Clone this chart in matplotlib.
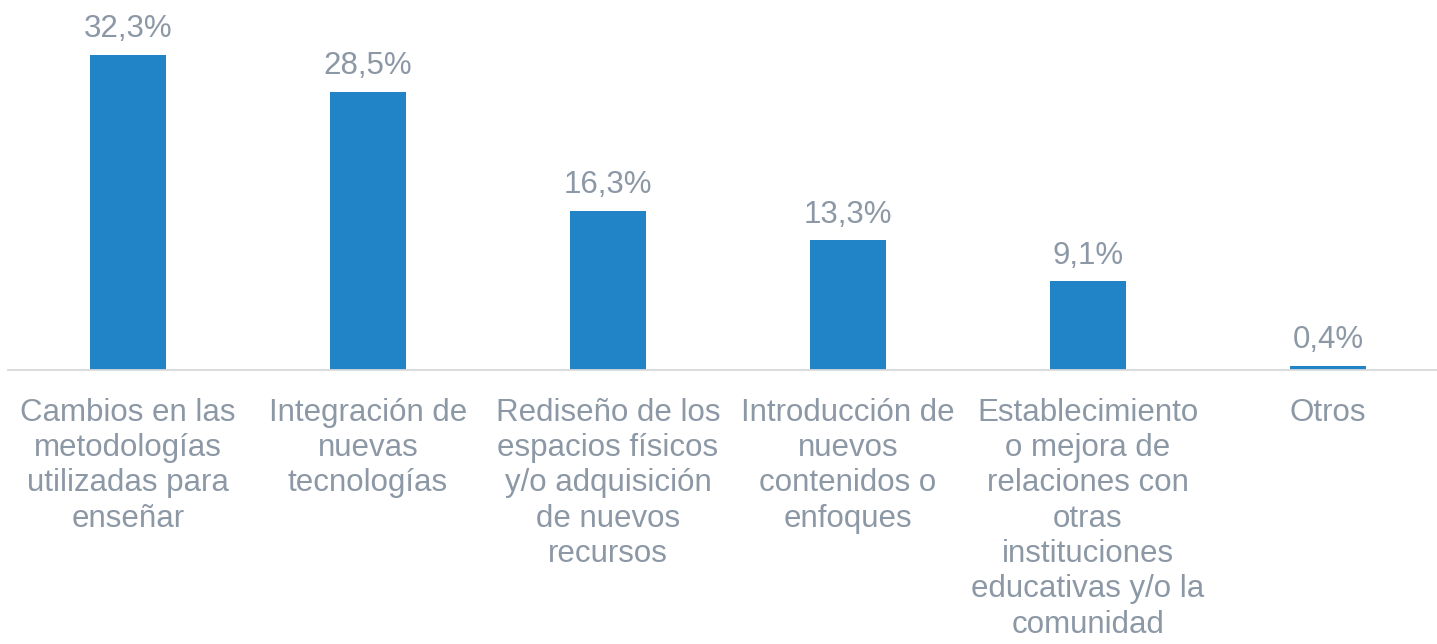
import matplotlib.pyplot as plt

plt.rcParams['font.family'] = ['Liberation Sans', 'DejaVu Sans']

categorias = [
    "Cambios en las\nmetodologías\nutilizadas para\nenseñar",
    "Integración de\nnuevas\ntecnologías",
    "Rediseño de los\nespacios físicos\ny/o adquisición\nde nuevos\nrecursos",
    "Introducción de\nnuevos\ncontenidos o\nenfoques",
    "Establecimiento\no mejora de\nrelaciones con\notras\ninstituciones\neducativas y/o la\ncomunidad",
    "Otros",
]
valores = [32.3, 28.5, 16.3, 13.3, 9.1, 0.4]
etiquetas = ["32,3%", "28,5%", "16,3%", "13,3%", "9,1%", "0,4%"]

azul = "#2184C6"
gris = "#8C98A5"

fig = plt.figure(figsize=(14.37, 6.44), dpi=100)
# el eje va un poco más allá del borde derecho, como en el original
ax = fig.add_axes([8 / 1437, 1 - 370 / 644, 1440 / 1437, 370 / 644])

x = range(len(valores))
ax.bar(x, valores, width=0.313, color=azul, zorder=2)

for i, v in enumerate(valores):
    ax.text(i, v + 1.1, etiquetas[i], ha="center", va="bottom",
            fontsize=22.5, color=gris)

ax.set_xlim(-0.5, 5.5)
ax.set_ylim(0, 370 / 9.75)
ax.set_xticks(list(x))
ax.set_xticklabels(categorias, fontsize=22.5, color=gris, linespacing=1.23)
ax.tick_params(axis="x", length=0, pad=20)
ax.set_yticks([])

for s in ["top", "left", "right"]:
    ax.spines[s].set_visible(False)
ax.spines["bottom"].set_color("#D9D9D9")
ax.spines["bottom"].set_linewidth(1.3)

fig.savefig("out.png", dpi=100)
